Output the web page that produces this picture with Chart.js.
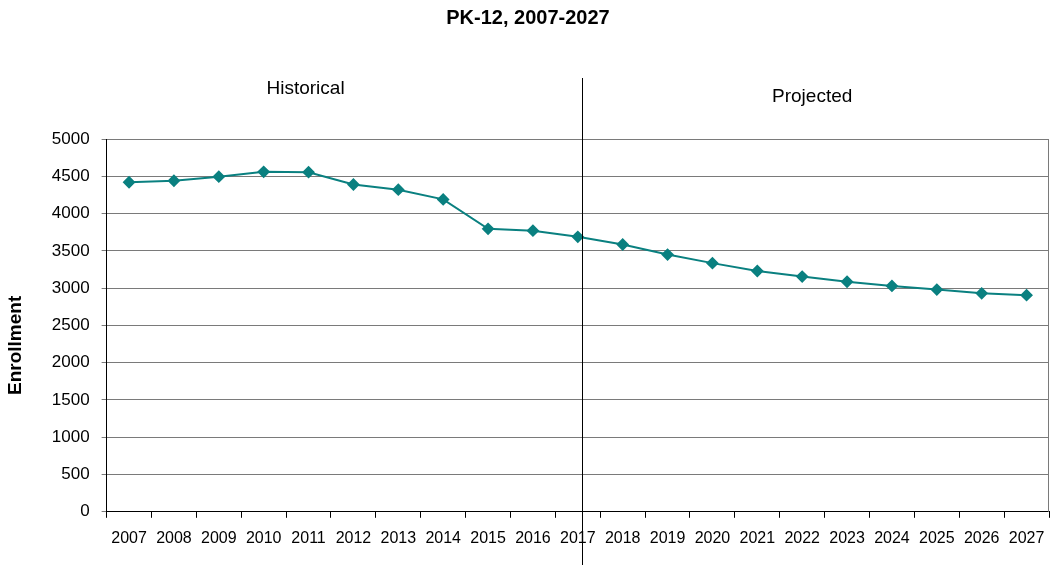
<!DOCTYPE html>
<html>
<head>
<meta charset="utf-8">
<script src="https://cdn.jsdelivr.net/npm/chart.js@4"></script>
<style>
  html, body { margin: 0; padding: 0; background: #fff; }
  #wrap { width: 1050px; height: 565px; }
</style>
</head>
<body>
<div id="wrap"><canvas id="chart"></canvas></div>
<script>
// enrollment data
var years = ['2007','2008','2009','2010','2011','2012','2013','2014','2015','2016','2017',
             '2018','2019','2020','2021','2022','2023','2024','2025','2026','2027'];
var enrollment = [4420, 4440, 4495, 4560, 4555, 4390, 4320, 4190, 3795, 3770, 3688,
                  3585, 3450, 3335, 3230, 3155, 3085, 3030, 2980, 2930, 2905];
var yTicks = [0, 500, 1000, 1500, 2000, 2500, 3000, 3500, 4000, 4500, 5000];
var splitYear = '2017';

var FONT = 'Arial, "Liberation Sans", sans-serif';

// draws the Historical / Projected split line, its labels, the y title and the right frame edge
var splitPlugin = {
    id: 'split',
    afterDraw: function(chart) {
        var ctx = chart.ctx;
        var xs = chart.scales.x;
        var area = chart.chartArea;
        var i = years.indexOf(splitYear);
        var x = Math.round(xs.getPixelForValue(i)) + 4.5;
        ctx.save();
        ctx.strokeStyle = '#000';
        ctx.lineWidth = 1;
        ctx.beginPath();
        ctx.moveTo(x, area.top - 61);
        ctx.lineTo(x, chart.height);
        ctx.stroke();

        ctx.strokeStyle = '#7a7a7a';
        ctx.beginPath();
        ctx.moveTo(Math.round(area.right) - 0.5, area.top);
        ctx.lineTo(Math.round(area.right) - 0.5, area.bottom);
        ctx.stroke();

        ctx.fillStyle = '#000';
        ctx.font = '19px ' + FONT;
        ctx.textAlign = 'center';
        ctx.textBaseline = 'middle';
        ctx.fillText('Historical', xs.getPixelForValue(4) - 3, area.top - 50);
        ctx.fillText('Projected', xs.getPixelForValue(15) + 10, area.top - 42);

        // y axis title, a little below the plot's middle as in the original
        ctx.font = 'bold 19px ' + FONT;
        ctx.translate(16, (area.top + area.bottom) / 2 + 20);
        ctx.rotate(-Math.PI / 2);
        ctx.fillText('Enrollment', 0, 0);
        ctx.restore();
    }
};

var ctx = document.getElementById('chart').getContext('2d');
var chart = new Chart(ctx, {
    type: 'line',
    data: {
        labels: years,
        datasets: [{
            label: 'Enrollment',
            data: enrollment,
            borderColor: '#0a8080',
            backgroundColor: '#0a8080',
            borderWidth: 2,
            pointStyle: 'rectRot',
            pointRadius: 5,
            pointHoverRadius: 5,
            tension: 0,
            fill: false
        }]
    },
    options: {
        responsive: true,
        maintainAspectRatio: false,
        animation: false,
        layout: { autoPadding: false, padding: { left: 7, right: 1, bottom: 6, top: 0 } },
        plugins: {
            legend: { display: false },
            tooltip: { enabled: false },
            title: {
                display: true,
                text: 'PK-12, 2007-2027',
                color: '#000',
                font: { family: FONT, size: 20, weight: 'bold' },
                padding: { top: 6, bottom: 109 }
            }
        },
        scales: {
            x: {
                offset: true,
                afterFit: function(scale) {
                    // labels sit inside their category, no extra side room needed
                    scale.paddingLeft = 0;
                    scale.paddingRight = 0;
                },
                grid: {
                    offset: true,
                    drawOnChartArea: false,
                    color: '#000',
                    tickLength: 6
                },
                border: { color: '#000', width: 1 },
                ticks: {
                    color: '#000',
                    font: { family: FONT, size: 16 },
                    maxRotation: 0,
                    autoSkip: false,
                    padding: 11
                }
            },
            y: {
                min: 0,
                max: 5000,
                afterBuildTicks: function(axis) {
                    axis.ticks = yTicks.map(function(v) { return { value: v }; });
                },
                grid: {
                    color: '#7a7a7a',
                    lineWidth: 1,
                    tickLength: 5
                },
                border: { color: '#000', width: 1 },
                ticks: {
                    color: '#000',
                    font: { family: FONT, size: 17 },
                    padding: 12,
                    callback: function(v) { return String(v); }
                },
                title: {
                    // space is kept here, the text itself is drawn by the plugin
                    display: true,
                    text: 'Enrollment',
                    color: 'rgba(0,0,0,0)',
                    font: { family: FONT, size: 19, weight: 'bold' },
                    padding: { top: 0, bottom: 10 }
                }
            }
        }
    },
    plugins: [splitPlugin]
});
</script>
</body>
</html>
